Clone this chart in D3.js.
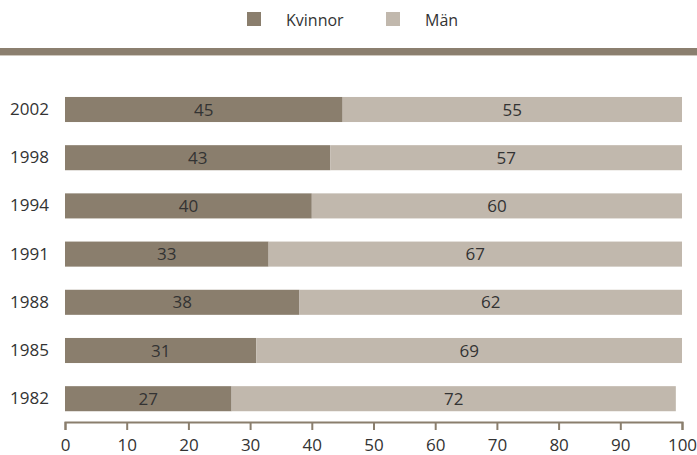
<!DOCTYPE html>
<html><head><meta charset="utf-8">
<script src="https://cdn.jsdelivr.net/npm/d3@7"></script>
<style>
html,body{margin:0;padding:0;background:#fff;}
svg{display:block;font-family:"Open Sans",sans-serif;}
</style></head>
<body><svg id="c" width="697" height="455"></svg>
<script>
const years = ["2002","1998","1994","1991","1988","1985","1982"];
const kvinnor = [45,43,40,33,38,31,27];
const man = [55,57,60,67,62,69,72];
const seriesNames = ["Kvinnor","Män"];
const xTicks = [0,10,20,30,40,50,60,70,80,90,100];
const colors = ["#8a7e6d","#c1b8ad"];

const svg = d3.select("#c");
const x = d3.scaleLinear().domain([0,100]).range([65,682]);
const y = d3.scaleBand().domain(years).range([85.4,422.8]).paddingInner(0.48).paddingOuter(0.24);

// top band
svg.append("rect").attr("x",0).attr("y",48).attr("width",697).attr("height",7).attr("fill","#8b7f6f");
svg.append("rect").attr("x",0).attr("y",55).attr("width",697).attr("height",1).attr("fill","#cfc8be");

// legend
const lg = svg.append("g");
const legX = [247,386];
seriesNames.forEach((n,i)=>{
  lg.append("rect").attr("x",legX[i]).attr("y",12).attr("width",14).attr("height",14).attr("fill",colors[i]);
  lg.append("text").attr("x",legX[i]+39).attr("y",26).attr("font-size",16).attr("fill","#333").text(n);
});

const rows = years.map((yr,i)=>({yr, k:kvinnor[i], m:man[i]}));
const g = svg.append("g");
rows.forEach(r=>{
  const y0 = y(r.yr), h = y.bandwidth();
  g.append("rect").attr("x",x(0)).attr("y",y0).attr("width",x(r.k)-x(0)).attr("height",h).attr("fill",colors[0]);
  g.append("rect").attr("x",x(r.k)).attr("y",y0).attr("width",x(r.k+r.m)-x(r.k)).attr("height",h).attr("fill",colors[1]);
  g.append("text").attr("x",(x(0)+x(r.k))/2).attr("y",y0+h/2).attr("dy","0.36em").attr("text-anchor","middle").attr("font-size",17).attr("fill","#333").text(r.k);
  g.append("text").attr("x",(x(r.k)+x(r.k+r.m))/2).attr("y",y0+h/2).attr("dy","0.36em").attr("text-anchor","middle").attr("font-size",17).attr("fill","#333").text(r.m);
});

// y labels
const ya = svg.append("g").attr("transform","translate(65,0)")
  .call(d3.axisLeft(y).tickSize(0).tickPadding(16));
ya.select(".domain").remove();
ya.selectAll("text").attr("font-size",17).attr("fill","#333").attr("font-family","Open Sans, sans-serif");

// x axis
const xa = svg.append("g").attr("transform","translate(0,422)")
  .call(d3.axisBottom(x).tickValues(xTicks).tickSize(8).tickSizeOuter(8).tickPadding(9));
xa.select(".domain").attr("stroke","#8a7e6d").attr("stroke-width",2);
xa.selectAll(".tick line").attr("stroke","#8a7e6d").attr("stroke-width",2);
xa.selectAll("text").attr("font-size",17).attr("fill","#333").attr("font-family","Open Sans, sans-serif");
</script></body></html>
